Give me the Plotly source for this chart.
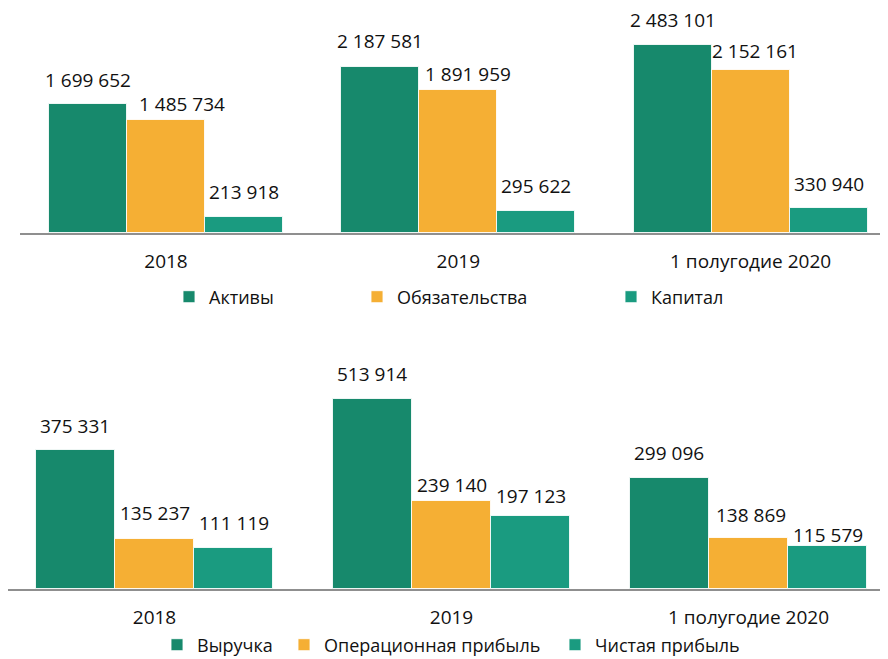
import plotly.graph_objects as go

# ---------------- data ----------------
categories = ["2018", "2019", "1 полугодие 2020"]

top_series = ["Активы", "Обязательства", "Капитал"]
aktivy = [1699652, 2187581, 2483101]
obyazatelstva = [1485734, 1891959, 2152161]
kapital = [213918, 295622, 330940]

bottom_series = ["Выручка", "Операционная прибыль", "Чистая прибыль"]
vyruchka = [375331, 513914, 299096]
oper_pribyl = [135237, 239140, 138869]
chistaya_pribyl = [111119, 197123, 115579]

# ---------------- style ----------------
colors = ["#17896C", "#F5AF34", "#1A9B80"]
FONT = "Open Sans, Noto Sans, DejaVu Sans, sans-serif"
PAGE_OFF = 8                     # default body margin of the html page
W, H = 888 - PAGE_OFF, 659 - PAGE_OFF
BAR_W = 0.8 / 3
# label nudges in pixels (dx, dy above bar top) per series per category
top_label_dy = [[23.5, 25, 23.3], [15.5, 14.5, 17.7], [23.5, 24, 23]]
top_label_dx = [[0, 0, 0], [15.5, 10, 4], [0, 0, 0]]
bot_label_dy = [[23.7, 24, 24], [25, 15, 21.6], [24, 18.7, 10.7]]
bot_label_dx = [[0, 0, 0], [0, 0, 2.5], [0, 0.5, 0]]

# legend text-start pixel positions (page coordinates)
top_legend_x = [206, 394, 648]
bot_legend_x = [194, 321, 592]
top_legend_y = 297
bot_legend_y = 645


def px_x(p):
    return (p - PAGE_OFF) / W


def px_y(p):
    return (H - (p - PAGE_OFF)) / H


def fmt(v):
    return f"{v:,}".replace(",", " ")


fig = go.Figure()

panels = [
    (top_series, [aktivy, obyazatelstva, kapital], "x", "y", top_label_dy, top_label_dx,
     top_legend_x, top_legend_y, 0),
    (bottom_series, [vyruchka, oper_pribyl, chistaya_pribyl], "x2", "y2", bot_label_dy, bot_label_dx,
     bot_legend_x, bot_legend_y, 3),
]

annotations = []
legends = {}
for names, values, xa, ya, ldy, ldx, lx, ly, lstart in panels:
    for s, (name, vals) in enumerate(zip(names, values)):
        xs = [i + (s - 1) * BAR_W for i in range(len(categories))]
        lid = "legend" if lstart + s == 0 else f"legend{lstart + s + 1}"
        fig.add_trace(go.Bar(
            x=xs, y=vals, width=BAR_W, name=name,
            marker=dict(color=colors[s], line=dict(color="rgba(255,255,255,0.85)", width=1)),
            xaxis=xa, yaxis=ya, legend=lid, showlegend=True,
            hoverinfo="skip",
        ))
        for i, v in enumerate(vals):
            annotations.append(dict(
                x=xs[i], y=v, xref=xa, yref=ya, text=fmt(v), showarrow=False,
                xanchor="center", yanchor="middle",
                yshift=ldy[s][i] + 1, xshift=ldx[s][i],
                font=dict(family=FONT, size=19, color="#111111"),
            ))
        legends[lid] = dict(
            x=px_x(lx[s] - 37), xanchor="left", xref="paper",
            y=px_y(ly), yanchor="middle", yref="paper",
            orientation="h", bgcolor="rgba(0,0,0,0)", borderwidth=0,
            font=dict(family=FONT, size=18, color="#111111"),
        )

axis_common = dict(
    showgrid=False, zeroline=False, showline=True, linecolor="#8f8f8f", linewidth=2,
    ticks="", tickvals=[0, 1, 2], ticktext=categories,
    tickfont=dict(family=FONT, size=19, color="#111111"),
    ticklabelstandoff=10, fixedrange=True, automargin=False,
)
yaxis_common = dict(showgrid=False, zeroline=False, showline=False, showticklabels=False,
                    ticks="", fixedrange=True, automargin=False)

top_unit = 292.3   # px per category
bot_unit = 297.0
fig.update_layout(
    width=W, height=H,
    margin=dict(l=0, r=0, t=0, b=0, autoexpand=False),
    paper_bgcolor="white", plot_bgcolor="white",
    barmode="overlay", bargap=0,
    font=dict(family=FONT, size=18, color="#111111"),
    xaxis=dict(domain=[px_x(20), 1], range=[-(166 - 20) / top_unit, (888 - 166) / top_unit],
               anchor="y", **axis_common),
    yaxis=dict(domain=[px_y(233), px_y(PAGE_OFF)], range=[0, (233 - PAGE_OFF) / 7.58e-5],
               anchor="x", **yaxis_common),
    xaxis2=dict(domain=[0, 1], range=[-(154.5 - PAGE_OFF) / bot_unit, (888 - 154.5) / bot_unit],
                anchor="y2", **axis_common),
    yaxis2=dict(domain=[px_y(589), px_y(330)], range=[0, 259 / 3.695e-4], anchor="x2",
                **yaxis_common),
    annotations=annotations,
    **legends,
)

fig.write_html("out.html")
